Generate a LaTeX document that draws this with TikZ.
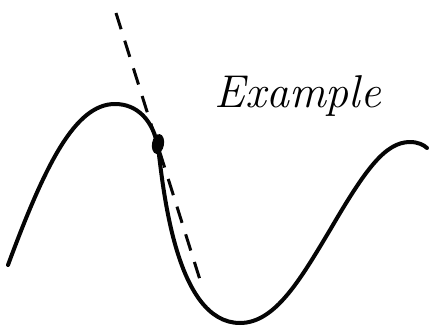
\documentclass[tikz,border=0pt]{standalone}
\usepackage{tikz}
\usepackage{xcolor}
\usetikzlibrary{shapes.geometric,positioning,calc}
\definecolor{INK}{HTML}{050505}

\begin{document}
\begin{tikzpicture}[x=1pt,y=-1pt,
    curve/.style={INK, line width=4pt, line cap=round, line join=round},
    tangent/.style={INK, line width=3pt, dash pattern=on 17pt off 12pt},
    touch/.style={ellipse, fill=INK, inner sep=0pt, minimum width=12pt, minimum height=20pt}]
        \useasboundingbox (0,0) rectangle (431,329);
        % the wave
        \draw[curve] (8,265) .. controls (45,165) and (75,104) .. (115,104)
          .. controls (137,104) and (153,120) .. (158,147)
          .. controls (163,185) and (175,323) .. (240,323)
          .. controls (275,323) and (300,280) .. (330,230)
          .. controls (365,170) and (385,142) .. (410,142)
          .. controls (418,142) and (424,145) .. (427,148);
        % tangent through the marked point
        \coordinate (tA) at (116,13);
        \coordinate (tB) at (201,283);
        \draw[tangent] (tA) -- (tB);
        \node[touch, rotate=-10] (pt) at (158,144) {};
        \node[font=\fontsize{46}{50}\selectfont\itshape, anchor=base] (ex)
          at (298,107) {Example};
      \end{tikzpicture}
\end{document}
